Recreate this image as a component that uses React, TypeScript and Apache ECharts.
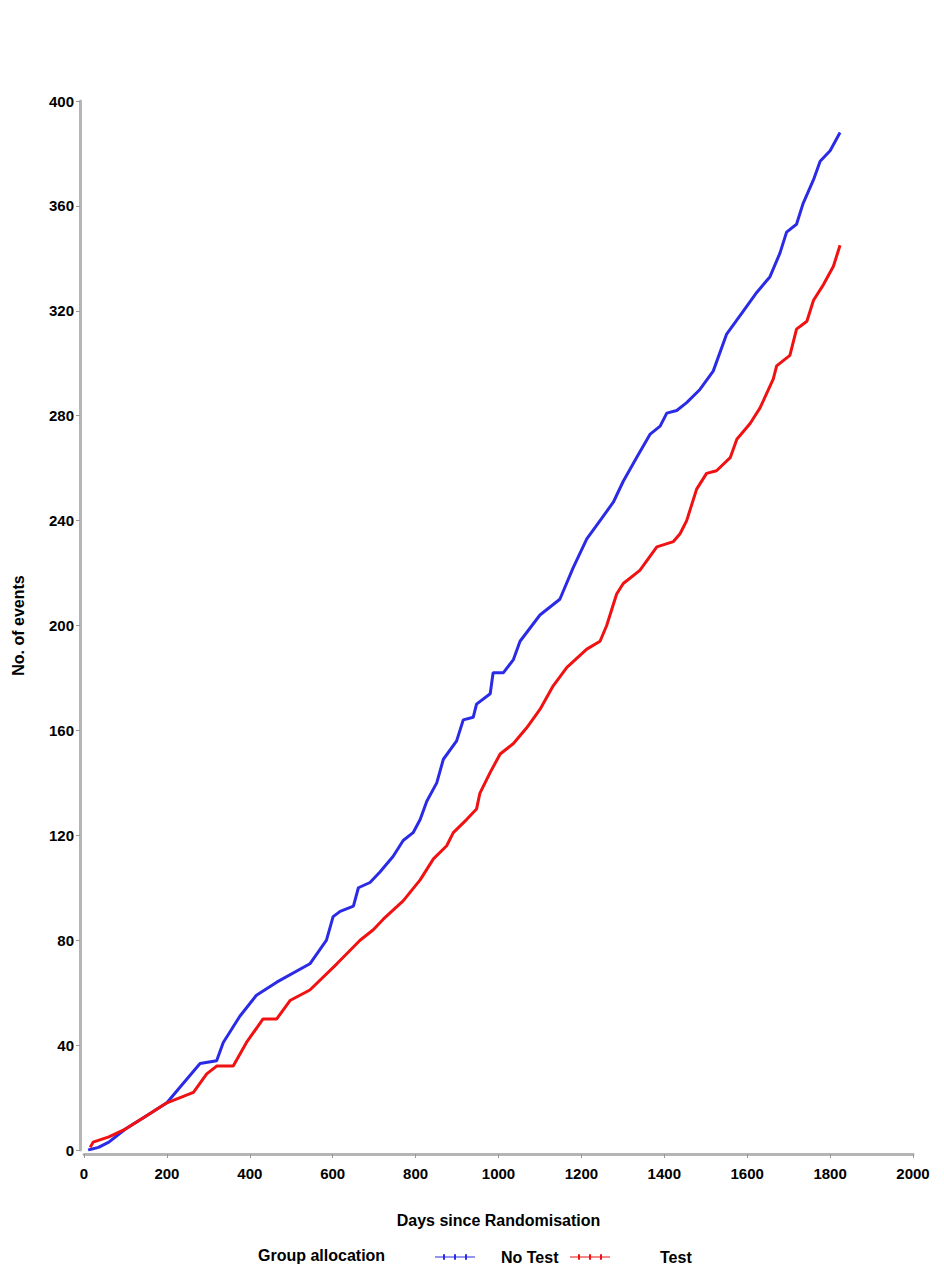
import React, { useEffect, useRef } from "react";
import * as echarts from "echarts";

const noTestDays = [10, 35, 60, 100, 150, 200, 232, 280, 320, 336, 376, 416, 465, 545, 585, 601, 618, 650, 662, 690, 714, 746, 770, 794, 811, 827, 851, 867, 899, 915, 939, 947, 980, 987, 1012, 1036, 1052, 1100, 1148, 1180, 1213, 1245, 1277, 1301, 1333, 1366, 1390, 1406, 1430, 1454, 1486, 1518, 1550, 1591, 1623, 1655, 1679, 1695, 1719, 1735, 1760, 1776, 1800, 1824];
const noTestEvents = [0, 1, 3, 8, 13, 18, 24, 33, 34, 41, 51, 59, 64, 71, 80, 89, 91, 93, 100, 102, 106, 112, 118, 121, 126, 133, 140, 149, 156, 164, 165, 170, 174, 182, 182, 187, 194, 204, 210, 222, 233, 240, 247, 255, 264, 273, 276, 281, 282, 285, 290, 297, 311, 320, 327, 333, 342, 350, 353, 361, 370, 377, 381, 388];

const testDays = [15, 22, 60, 100, 150, 200, 264, 296, 320, 360, 392, 432, 465, 497, 545, 610, 666, 698, 722, 770, 811, 843, 875, 891, 923, 947, 955, 980, 1004, 1036, 1068, 1100, 1132, 1165, 1213, 1245, 1261, 1285, 1301, 1341, 1382, 1422, 1438, 1454, 1478, 1502, 1526, 1559, 1575, 1607, 1631, 1663, 1671, 1703, 1719, 1744, 1760, 1784, 1808, 1824];
const testEvents = [1, 3, 5, 8, 13, 18, 22, 29, 32, 32, 41, 50, 50, 57, 61, 71, 80, 84, 88, 95, 103, 111, 116, 121, 126, 130, 136, 144, 151, 155, 161, 168, 177, 184, 191, 194, 200, 212, 216, 221, 230, 232, 235, 240, 252, 258, 259, 264, 271, 277, 283, 294, 299, 303, 313, 316, 324, 330, 337, 345];

const seriesNames = ["No Test", "Test"];
const xTitle = "Days since Randomisation";
const yTitle = "No. of events";
const legendTitle = "Group allocation";

const FONT = "'Liberation Sans', Arial, sans-serif";
const BLUE = "#2b2be6";
const RED = "#f01212";
const ICON = "path://M0,3.4H40V4.6H0Z M8,1.2H10V6.8H8Z M19,1.2H21V6.8H19Z M30,1.2H32V6.8H30Z";

export default function App() {
  const ref = useRef<HTMLDivElement>(null);
  useEffect(() => {
    if (!ref.current) return;
    const chart = echarts.init(ref.current, undefined, { renderer: "svg" });
    const toPairs = (xs: number[], ys: number[]) => xs.map((x, i) => [x, ys[i]]);
    const axisText = { color: "#000", fontFamily: FONT, fontWeight: "bold" as const, fontSize: 16 };
    chart.setOption({
      animation: false,
      backgroundColor: "#fff",
      grid: { left: 84, right: 31, top: 101, bottom: 130, containLabel: false },
      xAxis: {
        type: "value",
        min: 0,
        max: 2000,
        interval: 200,
        offset: 4,
        name: xTitle,
        nameLocation: "middle",
        nameGap: 58,
        nameTextStyle: { ...axisText },
        axisLine: { show: true, onZero: false, lineStyle: { color: "#b5b5b5", width: 3 } },
        axisTick: { show: true, length: 4, lineStyle: { color: "#999", width: 1 } },
        axisLabel: { ...axisText, fontSize: 15, margin: 12, formatter: (v: number) => String(v) },
        splitLine: { show: false },
      },
      yAxis: {
        type: "value",
        min: 0,
        max: 400,
        interval: 40,
        offset: 4,
        name: yTitle,
        nameLocation: "middle",
        nameRotate: 90,
        nameGap: 54,
        nameTextStyle: { ...axisText },
        axisLine: { show: true, onZero: false, lineStyle: { color: "#b5b5b5", width: 3 } },
        axisTick: { show: true, length: 4, lineStyle: { color: "#999", width: 1 } },
        axisLabel: { ...axisText, fontSize: 15, margin: 6, formatter: (v: number) => String(v) },
        splitLine: { show: false },
      },
      legend: [
        {
          left: 430,
          top: 1244,
          data: [{ name: seriesNames[0], icon: ICON }],
          itemWidth: 40,
          itemHeight: 8,
          textStyle: { ...axisText, padding: [0, 0, 0, 21] },
          selectedMode: false,
        },
        {
          left: 565,
          top: 1244,
          data: [{ name: seriesNames[1], icon: ICON }],
          itemWidth: 40,
          itemHeight: 8,
          textStyle: { ...axisText, padding: [0, 0, 0, 45] },
          selectedMode: false,
        },
      ],
      graphic: [
        {
          type: "text",
          left: 258,
          top: 1247,
          style: { text: legendTitle, fill: "#000", font: `bold 16px ${FONT}` },
        },
      ],
      series: [
        {
          name: seriesNames[0],
          type: "line",
          data: toPairs(noTestDays, noTestEvents),
          showSymbol: false,
          symbol: "none",
          lineStyle: { color: BLUE, width: 3 },
          itemStyle: { color: BLUE },
        },
        {
          name: seriesNames[1],
          type: "line",
          data: toPairs(testDays, testEvents),
          showSymbol: false,
          symbol: "none",
          lineStyle: { color: RED, width: 3 },
          itemStyle: { color: RED },
        },
      ],
    });
    return () => chart.dispose();
  }, []);
  return (
    <div
      ref={ref}
      style={{ position: "absolute", left: 0, top: 0, width: 944, height: 1280, background: "#fff" }}
    />
  );
}
